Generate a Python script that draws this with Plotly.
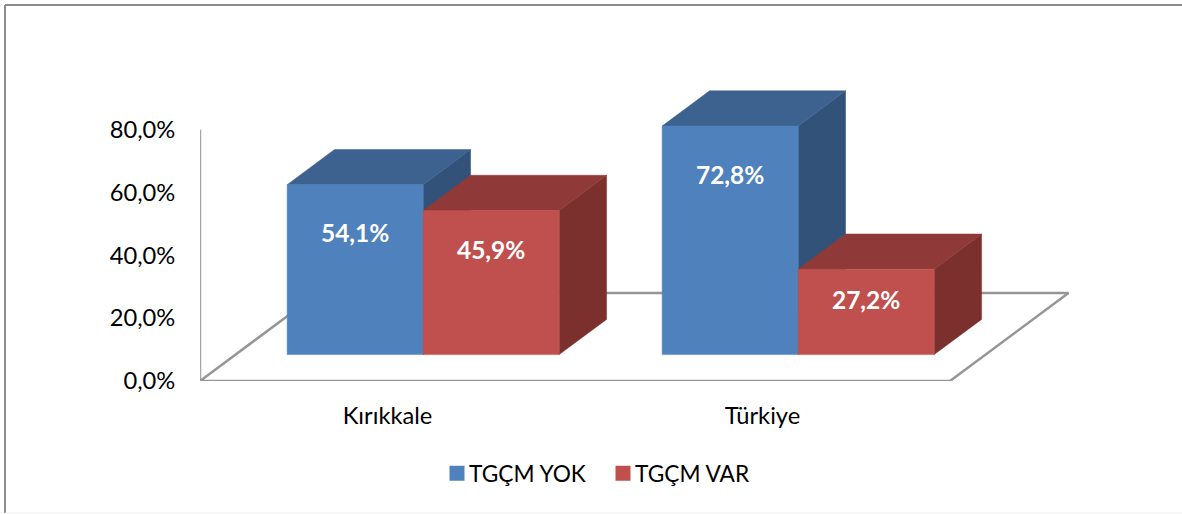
import plotly.graph_objects as go

categories = ["Kırıkkale", "Türkiye"]
series_names = ["TGÇM YOK", "TGÇM VAR"]
tgcm_yok = [54.1, 72.8]
tgcm_var = [45.9, 27.2]
y_ticks = [0, 20, 40, 60, 80]
y_tick_labels = ["0,0%", "20,0%", "40,0%", "60,0%", "80,0%"]

# label heights, in axis units
label_height_yok = [46.2, 64.6]
label_height_var = [40.8, 24.8]

W, H = 1182, 514
ML, MR, MT, MB = 200, 102, 80, 133
PX_PER_CAT = 375.0
PX_PER_VAL = 3.14
FLOOR_DX = 118.5 / PX_PER_CAT
FLOOR_DY = 88 / PX_PER_VAL
GROUP_START = 0.1376
BAR_W = 0.3627
D_FRONT, D_BACK = 0.3, 0.7
FONT = "Lato"
GRAY = "#969696"
TICK_SIZE = 23.7


def proj(x, v, d):
    return x + d * FLOOR_DX, v + d * FLOOR_DY


def poly(points, color):
    xs = [p[0] for p in points] + [points[0][0]]
    ys = [p[1] for p in points] + [points[0][1]]
    return go.Scatter(x=xs, y=ys, mode="lines", fill="toself", fillcolor=color,
                      line=dict(color=color, width=0.5), hoverinfo="skip",
                      showlegend=False, cliponaxis=False)


def bar_faces(x0, v, front, top, side):
    x1 = x0 + BAR_W
    return [
        poly([proj(x1, 0, D_FRONT), proj(x1, 0, D_BACK), proj(x1, v, D_BACK), proj(x1, v, D_FRONT)], side),
        poly([proj(x0, v, D_FRONT), proj(x1, v, D_FRONT), proj(x1, v, D_BACK), proj(x0, v, D_BACK)], top),
        poly([proj(x0, 0, D_FRONT), proj(x1, 0, D_FRONT), proj(x1, v, D_FRONT), proj(x0, v, D_FRONT)], front),
    ]


fig = go.Figure()

# wall line and floor
fig.add_trace(go.Scatter(x=[0, 0], y=[0, 80], mode="lines", line=dict(color="#A6A6A6", width=2.5),
                         hoverinfo="skip", showlegend=False, cliponaxis=False))
floor = [proj(0, 0, 0), proj(2, 0, 0), proj(2, 0, 1), proj(0, 0, 1), proj(0, 0, 0)]
fig.add_trace(go.Scatter(x=[p[0] for p in floor], y=[p[1] for p in floor], mode="lines",
                         line=dict(color=GRAY, width=2.5), hoverinfo="skip", showlegend=False,
                         cliponaxis=False))

BLUE = ("#4F81BD", "#3E628F", "#32527A")
RED = ("#C0504D", "#8F3A38", "#7C302E")
for i in range(len(categories)):
    x0 = i + GROUP_START
    for t in bar_faces(x0, tgcm_yok[i], *BLUE):
        fig.add_trace(t)
    for t in bar_faces(x0 + BAR_W, tgcm_var[i], *RED):
        fig.add_trace(t)

# data labels
lab_x, lab_y, lab_t = [], [], []
for i in range(len(categories)):
    x0 = i + GROUP_START
    for x, h, v in [(x0 + BAR_W / 2, label_height_yok[i], tgcm_yok[i]),
                    (x0 + BAR_W * 1.5, label_height_var[i], tgcm_var[i])]:
        px, _ = proj(x, 0, D_FRONT)
        lab_x.append(px)
        lab_y.append(h)
        lab_t.append(f"{v:.1f}%".replace(".", ","))
fig.add_trace(go.Scatter(x=lab_x, y=lab_y, mode="text", text=lab_t, textposition="middle center",
                         textfont=dict(family=FONT, size=24.5, color="white", weight="bold"),
                         hoverinfo="skip", showlegend=False, cliponaxis=False))

# legend entries
for name, col in zip(series_names, (BLUE[0], RED[0])):
    fig.add_trace(go.Scatter(x=[None], y=[None], mode="markers", name=name,
                             marker=dict(symbol="square", size=15, color=col)))

plot_w, plot_h = W - ML - MR, H - MT - MB
frame = "#8C8C8C"
fig.update_layout(
    width=W, height=H, autosize=False,
    margin=dict(l=ML, r=MR, t=MT, b=MB, pad=0),
    paper_bgcolor="white", plot_bgcolor="white",
    font=dict(family=FONT, size=TICK_SIZE, color="black"),
    xaxis=dict(range=[0, plot_w / PX_PER_CAT], tickvals=[0.5, 1.5], ticktext=categories,
               showgrid=False, zeroline=False, showline=False, ticks="outside", ticklen=14,
               tickcolor="rgba(0,0,0,0)", tickfont=dict(family=FONT, size=TICK_SIZE), fixedrange=True),
    yaxis=dict(range=[0, plot_h / PX_PER_VAL], tickvals=y_ticks, ticktext=y_tick_labels,
               showgrid=False, zeroline=False, showline=False, ticks="outside", ticklen=19,
               tickcolor="rgba(0,0,0,0)", tickfont=dict(family=FONT, size=TICK_SIZE), fixedrange=True),
    legend=dict(orientation="h", x=(429 - ML) / plot_w, xanchor="left",
                y=-(452 - (H - MB)) / plot_h, yanchor="top", font=dict(family=FONT, size=22.7),
                bgcolor="rgba(0,0,0,0)", itemwidth=30, traceorder="normal",
                entrywidth=121, entrywidthmode="pixels"),
    shapes=[
        dict(type="line", xref="paper", yref="paper",
             x0=(5 - ML) / plot_w, x1=(W - ML) / plot_w,
             y0=(H - MB - 5) / plot_h, y1=(H - MB - 5) / plot_h,
             line=dict(color=frame, width=2)),
        dict(type="line", xref="paper", yref="paper",
             x0=(5 - ML) / plot_w, x1=(5 - ML) / plot_w,
             y0=(H - MB - 5) / plot_h, y1=-(MB - 1) / plot_h,
             line=dict(color=frame, width=2)),
        dict(type="line", xref="paper", yref="paper",
             x0=(5 - ML) / plot_w, x1=(W - ML) / plot_w,
             y0=-(MB - 1) / plot_h, y1=-(MB - 1) / plot_h,
             line=dict(color="#EFEFEF", width=1)),
    ],
)

post = """
document.body.style.margin='0';document.body.style.overflow='hidden';
setTimeout(function(){
  document.querySelectorAll('g.legendsymbols').forEach(function(g){g.setAttribute('transform','translate(8,0)');});
},50);
"""
fig.write_html("out.html", config=dict(displayModeBar=False), post_script=post)
